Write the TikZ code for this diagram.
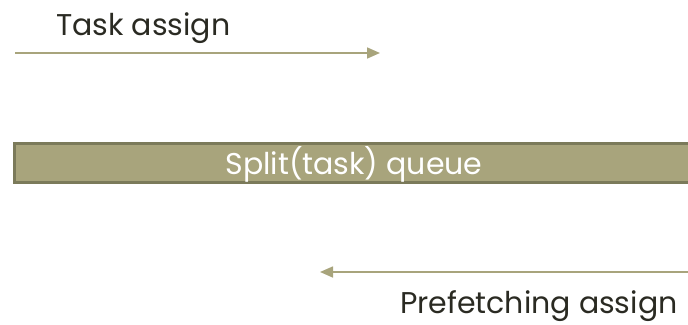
\documentclass[tikz,border=0pt]{standalone}
\usepackage{fontspec}
\setmainfont{Poppins}
\usetikzlibrary{arrows.meta}
\definecolor{olivefill}{HTML}{A8A47C}
\definecolor{oliveedge}{HTML}{7B7A5A}
\definecolor{inkdark}{HTML}{2A2A22}
\tikzset{
  label text/.style={font=\fontsize{30}{34}\selectfont, text=inkdark, inner sep=0pt},
  flow/.style={draw=olivefill, line width=1.6pt, -{Triangle[length=13pt,width=11pt]}},
  queuebar/.style={draw=oliveedge, fill=olivefill, line width=3pt},
}
\begin{document}
\begin{tikzpicture}[x=1pt,y=-1pt]
\useasboundingbox (0,0) rectangle (688,324);
% split queue bar, running off the right edge
\draw[queuebar] (14.5,143.5) rectangle (700,182);
\node[label text, text=white, anchor=base] (queue) at (354,174.3) {Split(task) queue};
% task assignment, left to right
\node[label text, anchor=base west] (task) at (56,35) {Task assign};
\coordinate (t0) at (15,53);
\coordinate (t1) at (380,53);
\draw[flow] (t0) -- (t1);
% prefetching assignment, right to left
\coordinate (p0) at (690,272);
\coordinate (p1) at (320,272);
\draw[flow] (p0) -- (p1);
\node[label text, anchor=base west] (prefetch) at (400,313) {Prefetching assign};
\end{tikzpicture}
\end{document}
